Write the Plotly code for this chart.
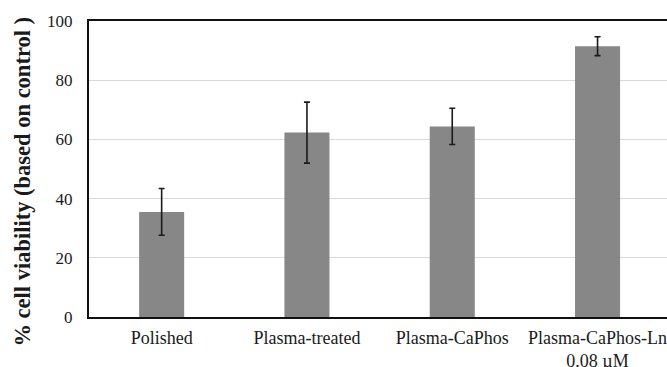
import plotly.graph_objects as go

categories = ["Polished", "Plasma-treated", "Plasma-CaPhos", "Plasma-CaPhos-Ln<br>0.08 µM"]
viability = [35.5, 62.3, 64.4, 91.5]
errors = [7.9, 10.3, 6.1, 3.2]
y_ticks = [0, 20, 40, 60, 80, 100]

W, H = 667, 367
L, T, B = 89, 21, 50
FONT = "Liberation Serif"

fig = go.Figure()
fig.add_trace(go.Bar(
    x=categories, y=viability,
    marker=dict(color="#878787", line=dict(width=0)),
    width=0.31,
    error_y=dict(type="data", array=errors, visible=True,
                 color="#1a1a1a", thickness=1.6, width=3),
))

plot_w = W - L
fig.update_layout(
    width=W, height=H,
    margin=dict(l=L, r=0, t=T, b=B, pad=0, autoexpand=False),
    paper_bgcolor="white", plot_bgcolor="white",
    showlegend=False,
    font=dict(family=FONT, size=18, color="#1a1a1a"),
    xaxis=dict(
        type="category", range=[-0.5, 3.478], automargin=False,
        showline=True, linecolor="#111", linewidth=2, mirror=True,
        showgrid=False, ticks="", ticklabelstandoff=3,
        tickfont=dict(family=FONT, size=18, color="#1a1a1a"),
    ),
    yaxis=dict(
        range=[0, 100], tickvals=y_ticks, automargin=False,
        showline=True, linecolor="#111", linewidth=2, mirror=False,
        showgrid=True, gridcolor="#d9d9d9", gridwidth=1,
        zeroline=False, ticks="", ticklabelstandoff=11,
        tickfont=dict(family=FONT, size=17, color="#1a1a1a"),
    ),
    annotations=[dict(
        text="<b>% cell viability (based on control )</b>",
        xref="paper", yref="paper",
        x=-(L - 22) / plot_w, y=(317 - 181.5) / 296,
        xanchor="center", yanchor="middle",
        textangle=-90, showarrow=False,
        font=dict(family=FONT, size=22.5, color="#1a1a1a"),
    )],
)

fig.write_html("out.html")
